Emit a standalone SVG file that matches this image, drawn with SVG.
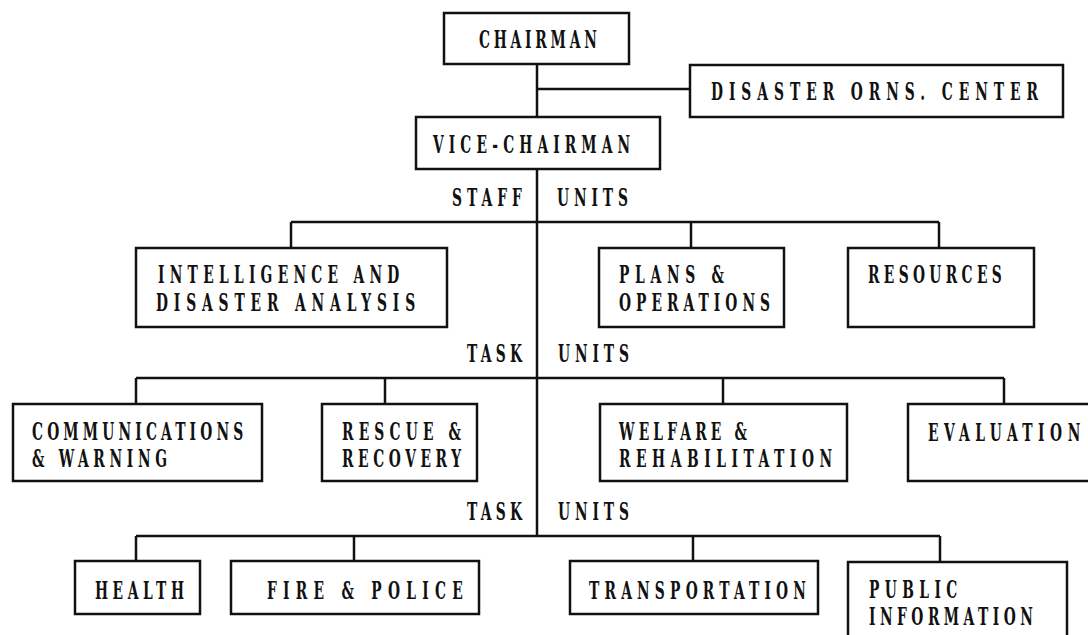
<svg xmlns="http://www.w3.org/2000/svg" width="1088" height="635" viewBox="0 0 1088 635">
<style>
.box{fill:#fff;stroke:#111;stroke-width:2.5}
.ln{stroke:#111;stroke-width:2.5;fill:none}
text{font-family:"DejaVu Serif Condensed","DejaVu Serif",serif;font-weight:bold;font-size:24px;fill:#111}
</style>
<rect width="1088" height="635" fill="#fff"/>
<g id="connectors" class="ln">
<path d="M537 64 V117 M537 89 H690 M537 169 V536"/>
<path d="M291 222 H939 M291 222 V248 M691 222 V248 M939 222 V248"/>
<path d="M136 378 H1004 M136 378 V404 M385 378 V404 M723 378 V404 M1004 378 V404"/>
<path d="M136 536 H940 M136 536 V561 M354 536 V561 M693 536 V561 M940 536 V561"/>
</g>
<g id="labels">
<text transform="translate(452 206) scale(0.64 1)" textLength="109" lengthAdjust="spacing">STAFF</text>
<text transform="translate(557 206) scale(0.64 1)" textLength="111" lengthAdjust="spacing">UNITS</text>
<text transform="translate(467 362) scale(0.64 1)" textLength="86" lengthAdjust="spacing">TASK</text>
<text transform="translate(558 362) scale(0.64 1)" textLength="111" lengthAdjust="spacing">UNITS</text>
<text transform="translate(467 520) scale(0.64 1)" textLength="86" lengthAdjust="spacing">TASK</text>
<text transform="translate(558 520) scale(0.64 1)" textLength="111" lengthAdjust="spacing">UNITS</text>
</g>
<g id="chairman"><rect class="box" x="444" y="13" width="185" height="51"/><text transform="translate(479 48) scale(0.64 1)" textLength="184" lengthAdjust="spacing">CHAIRMAN</text></g>
<g id="disaster-orns-center"><rect class="box" x="690" y="65" width="373" height="52"/><text transform="translate(711 100) scale(0.64 1)" textLength="511" lengthAdjust="spacing">DISASTER ORNS. CENTER</text></g>
<g id="vice-chairman"><rect class="box" x="416" y="117" width="244" height="52"/><text transform="translate(433 153) scale(0.64 1)" textLength="308" lengthAdjust="spacing">VICE-CHAIRMAN</text></g>
<g id="intelligence"><rect class="box" x="136" y="248" width="311" height="79"/><text transform="translate(158 283) scale(0.64 1)" textLength="377" lengthAdjust="spacing">INTELLIGENCE AND</text><text transform="translate(156 311) scale(0.64 1)" textLength="405" lengthAdjust="spacing">DISASTER ANALYSIS</text></g>
<g id="plans"><rect class="box" x="599" y="248" width="185" height="79"/><text transform="translate(619 283) scale(0.64 1)" textLength="164" lengthAdjust="spacing">PLANS &amp;</text><text transform="translate(619 311) scale(0.64 1)" textLength="236" lengthAdjust="spacing">OPERATIONS</text></g>
<g id="resources"><rect class="box" x="848" y="248" width="186" height="79"/><text transform="translate(868 283) scale(0.64 1)" textLength="209" lengthAdjust="spacing">RESOURCES</text></g>
<g id="communications"><rect class="box" x="13" y="404" width="249" height="77"/><text transform="translate(32 440) scale(0.64 1)" textLength="330" lengthAdjust="spacing">COMMUNICATIONS</text><text transform="translate(32 467) scale(0.64 1)" textLength="211" lengthAdjust="spacing">&amp; WARNING</text></g>
<g id="rescue"><rect class="box" x="322" y="404" width="155" height="77"/><text transform="translate(342 440) scale(0.64 1)" textLength="186" lengthAdjust="spacing">RESCUE &amp;</text><text transform="translate(342 467) scale(0.64 1)" textLength="186" lengthAdjust="spacing">RECOVERY</text></g>
<g id="welfare"><rect class="box" x="600" y="404" width="247" height="77"/><text transform="translate(619 440) scale(0.64 1)" textLength="200" lengthAdjust="spacing">WELFARE &amp;</text><text transform="translate(619 467) scale(0.64 1)" textLength="333" lengthAdjust="spacing">REHABILITATION</text></g>
<g id="evaluation"><rect class="box" x="908" y="404" width="190" height="77"/><text transform="translate(928 441) scale(0.64 1)" textLength="238" lengthAdjust="spacing">EVALUATION</text></g>
<g id="health"><rect class="box" x="75" y="561" width="125" height="53"/><text transform="translate(95 599) scale(0.64 1)" textLength="139" lengthAdjust="spacing">HEALTH</text></g>
<g id="fire-police"><rect class="box" x="231" y="561" width="248" height="53"/><text transform="translate(267 599) scale(0.64 1)" textLength="306" lengthAdjust="spacing">FIRE &amp; POLICE</text></g>
<g id="transportation"><rect class="box" x="570" y="561" width="248" height="53"/><text transform="translate(589 599) scale(0.64 1)" textLength="339" lengthAdjust="spacing">TRANSPORTATION</text></g>
<g id="public-information"><rect class="box" x="848" y="562" width="219" height="90"/><text transform="translate(869 598) scale(0.64 1)" textLength="138" lengthAdjust="spacing">PUBLIC</text><text transform="translate(869 625) scale(0.64 1)" textLength="256" lengthAdjust="spacing">INFORMATION</text></g>
</svg>
